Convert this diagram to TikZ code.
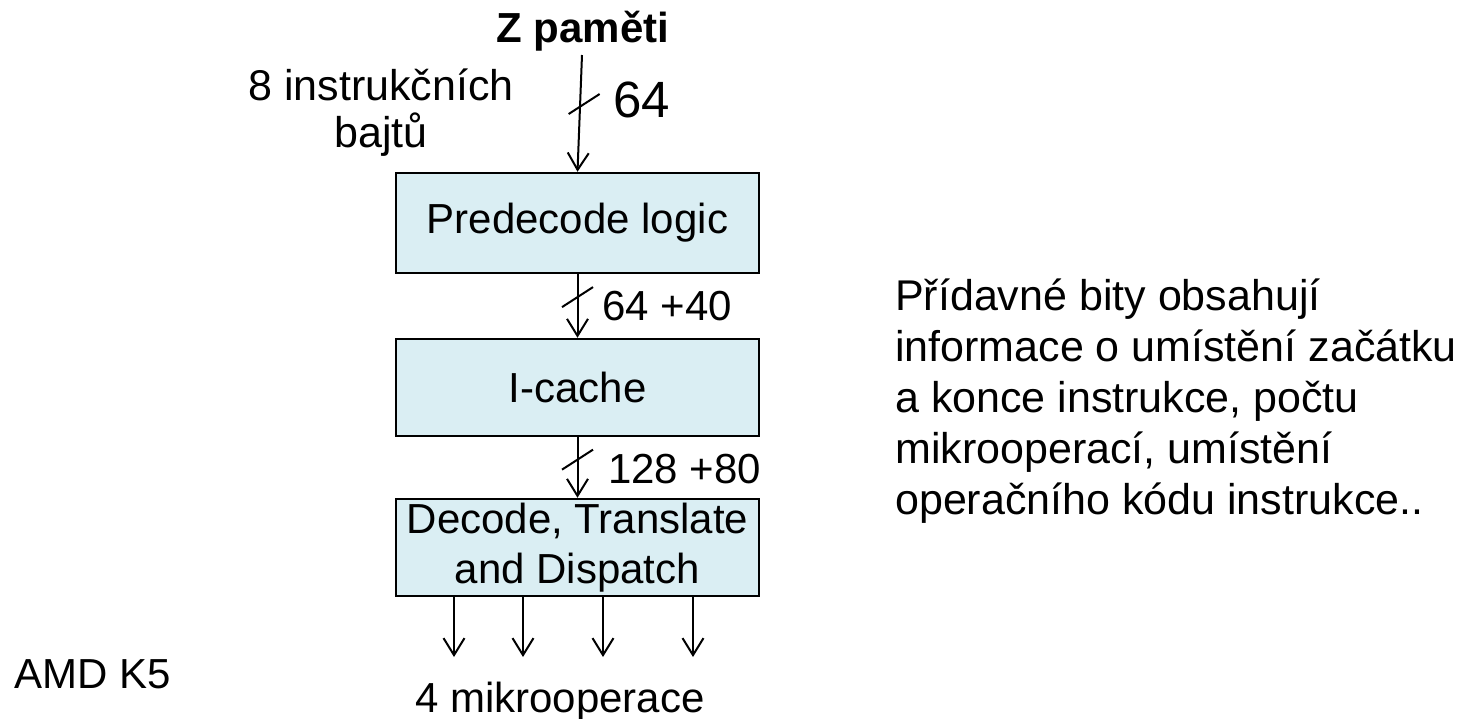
\documentclass[tikz,border=0pt]{standalone}
\usepackage{fontspec}
\setmainfont{Liberation Sans}
\usetikzlibrary{arrows.meta,calc}
\definecolor{boxfill}{HTML}{DAEEF3}

\tikzset{
  txt/.style={inner sep=0pt, font=\fontsize{42}{50}\selectfont},
  block/.style={txt, draw, line width=2.5pt, fill=boxfill, minimum width=363pt, align=center},
  bus/.style={line width=2pt, -{Straight Barb[length=17pt,width=21pt,line width=2pt]}},
}
\newcommand\busslash[1]{\draw[line width=2pt] ($(#1)+(-15.5,10)$) -- ($(#1)+(15.5,-10)$);}

\begin{document}
\begin{tikzpicture}[x=1pt,y=-1pt]
\useasboundingbox (0,0) rectangle (1458,718);
    %Blocks
\node[block, minimum height=100pt] (pre) at (577.5,223) {Predecode logic};
\node[block, minimum height=97pt] (ica) at (577.5,387.5) {I-cache};
\node[block, minimum height=97pt] (dec) at (577.5,547.5) {Decode, Translate\\and Dispatch};
    %Input from memory
\node[txt, anchor=base, font=\bfseries\fontsize{42}{50}\selectfont] (zmem) at (583,42) {Z paměti};
\coordinate (zin) at (582,55);
\node[txt, anchor=base, align=center, font=\fontsize{43}{47}\selectfont] (bytes) at (381,147) {8 instrukčních\\bajtů};
    %Buses
\draw[bus] (zin) -- (pre.north) coordinate[pos=0.42] (s1);
\draw[bus] (pre.south) -- (ica.north) coordinate[pos=0.36] (s2);
\draw[bus] (ica.south) -- (dec.north) coordinate[pos=0.37] (s3);
\busslash{$(s1)+(4,0)$}
\busslash{s2}
\busslash{s3}
\node[txt, anchor=base west, font=\fontsize{51}{60}\selectfont] (w1) at (613,117) {64};
\node[txt, anchor=base west] (w2) at (602,320) {64 +40};
\node[txt, anchor=base west] (w3) at (608,483) {128 +80};
    %Micro-ops
\foreach \x [count=\i] in {454,523,603,693} {
  \coordinate (uop\i) at (\x,657);
  \draw[bus] (dec.south -| uop\i) -- (uop\i);
}
\node[txt, anchor=base] (uops) at (560,712) {4 mikrooperace};
    %Notes
\node[txt, anchor=base west] (cpu) at (14,688) {AMD K5};
\node[txt, anchor=base west, align=left, font=\fontsize{43}{51}\selectfont] (note) at (895,514)
  {Přídavné bity obsahují\\informace o umístění začátku\\a konce instrukce, počtu\\mikrooperací, umístění\\operačního kódu instrukce..};
\end{tikzpicture}
\end{document}
